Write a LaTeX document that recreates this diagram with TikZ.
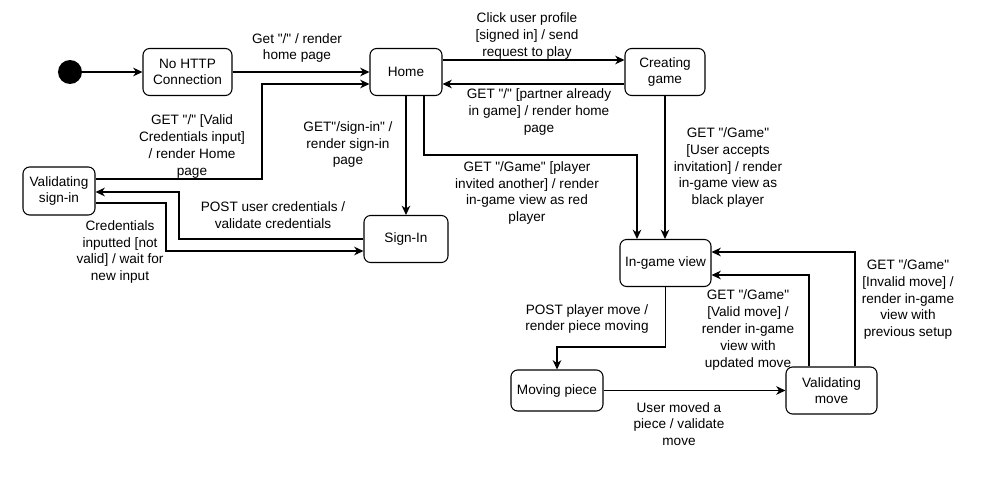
\documentclass[tikz,border=0pt]{standalone}
\usepackage{fontspec}
\setmainfont{Liberation Sans}[Ligatures=TeXOff]
\usetikzlibrary{arrows.meta}
\begin{document}
\begin{tikzpicture}[>={Stealth[length=7pt, width=6.5pt, inset=2.2pt]}, x=0.75pt, y=-0.75pt,
    stbox/.style={draw, line width=0.8pt, rounded corners=5pt, minimum height=35.25pt,
        align=center, inner sep=1pt, font=\fontsize{10.2}{12}\selectfont},
    lbl/.style={align=center, inner sep=0pt, font=\fontsize{10.2}{12.6}\selectfont},
    tr/.style={->, line width=0.8pt}]
\useasboundingbox (0,0) rectangle (997,482);

\node[circle, fill, minimum size=18pt, inner sep=0pt] (start) at (70,72) {};
\node[stbox, minimum width=66.75pt] (nohttp) at (187.5,72) {No HTTP\\Connection};
\node[stbox, minimum width=54pt] (home) at (406,72) {Home};
\node[stbox, minimum width=60pt] (creating) at (665,72) {Creating\\game};
\node[stbox, minimum width=54pt, minimum height=36pt] (valsign) at (59,191) {Validating\\sign-in};
\node[stbox, minimum width=63pt] (signin) at (406,239) {Sign-In};
\node[stbox, minimum width=68.25pt] (ingame) at (665.5,263) {In-game view};
\node[stbox, minimum width=69pt, minimum height=30.75pt] (moving) at (557,390.5) {Moving piece};
\node[stbox, minimum width=68.25pt] (valmove) at (831.5,390.5) {Validating\\move};

\draw[tr] (start) -- (nohttp);
\draw[tr] (nohttp) -- (home);
\draw[tr] (valsign.east |- 0,179) -- (262,179) |- (home.west |- 0,84);
\draw[tr] (home.east |- 0,60) -- (creating.west |- 0,60);
\draw[tr] (creating.west |- 0,84) -- (home.east |- 0,84);
\draw[tr] (home) -- (signin);
\draw[tr] (home.south -| 424,0) |- (637,155) -- (ingame.north -| 637,0);
\draw[tr] (creating.south) -- (creating.south |- ingame.north);
\draw[tr] (signin.west) -| (179,192) -- (valsign.east |- 0,192);
\draw[tr] (valsign.east |- 0,203) -| (166,251) -- (signin.west |- 0,251);
\draw[tr] (ingame.south) |- (557,347) -- (moving.north);
\draw[tr] (moving) -- (valmove);
\draw[tr] (valmove.north -| 809,0) |- (ingame.east |- 0,275);
\draw[tr] (valmove.north -| 855,0) |- (ingame.east |- 0,252);

% transition labels
\node[lbl] (l_nohttp) at (297,48) {Get "/" / render\\home page};
\node[lbl] (l_valid) at (192,146.5) {GET "/" [Valid\\Credentials input]\\/ render Home\\page};
\node[lbl] (l_click) at (527,36) {Click user profile\\{}[signed in] / send\\request to play};
\node[lbl] (l_partner) at (539,112) {GET "/" [partner already\\in game] / render home\\page};
\node[lbl] (l_signin) at (348,144.5) {GET"/sign-in" /\\render sign-in\\page};
\node[lbl] (l_red) at (527,193) {GET "/Game" [player\\invited another] / render\\in-game view as red\\player};
\node[lbl] (l_black) at (728,167.5) {GET "/Game"\\{}[User accepts\\invitation] / render\\in-game view as\\black player};
\node[lbl] (l_post) at (273,215.5) {POST user credentials /\\validate credentials};
\node[lbl] (l_notvalid) at (120,252) {Credentials\\inputted [not\\valid] / wait for\\new input};
\node[lbl] (l_move) at (587,319) {POST player move /\\render piece moving};
\node[lbl] (l_validmove) at (748,330) {GET "/Game"\\{}[Valid move] /\\render in-game\\view with\\updated move};
\node[lbl] (l_invalid) at (908,299.5) {GET "/Game"\\{}[Invalid move] /\\render in-game\\view with\\previous setup};
\node[lbl] (l_moved) at (679,424) {User moved a\\piece / validate\\move};

\end{tikzpicture}
\end{document}
